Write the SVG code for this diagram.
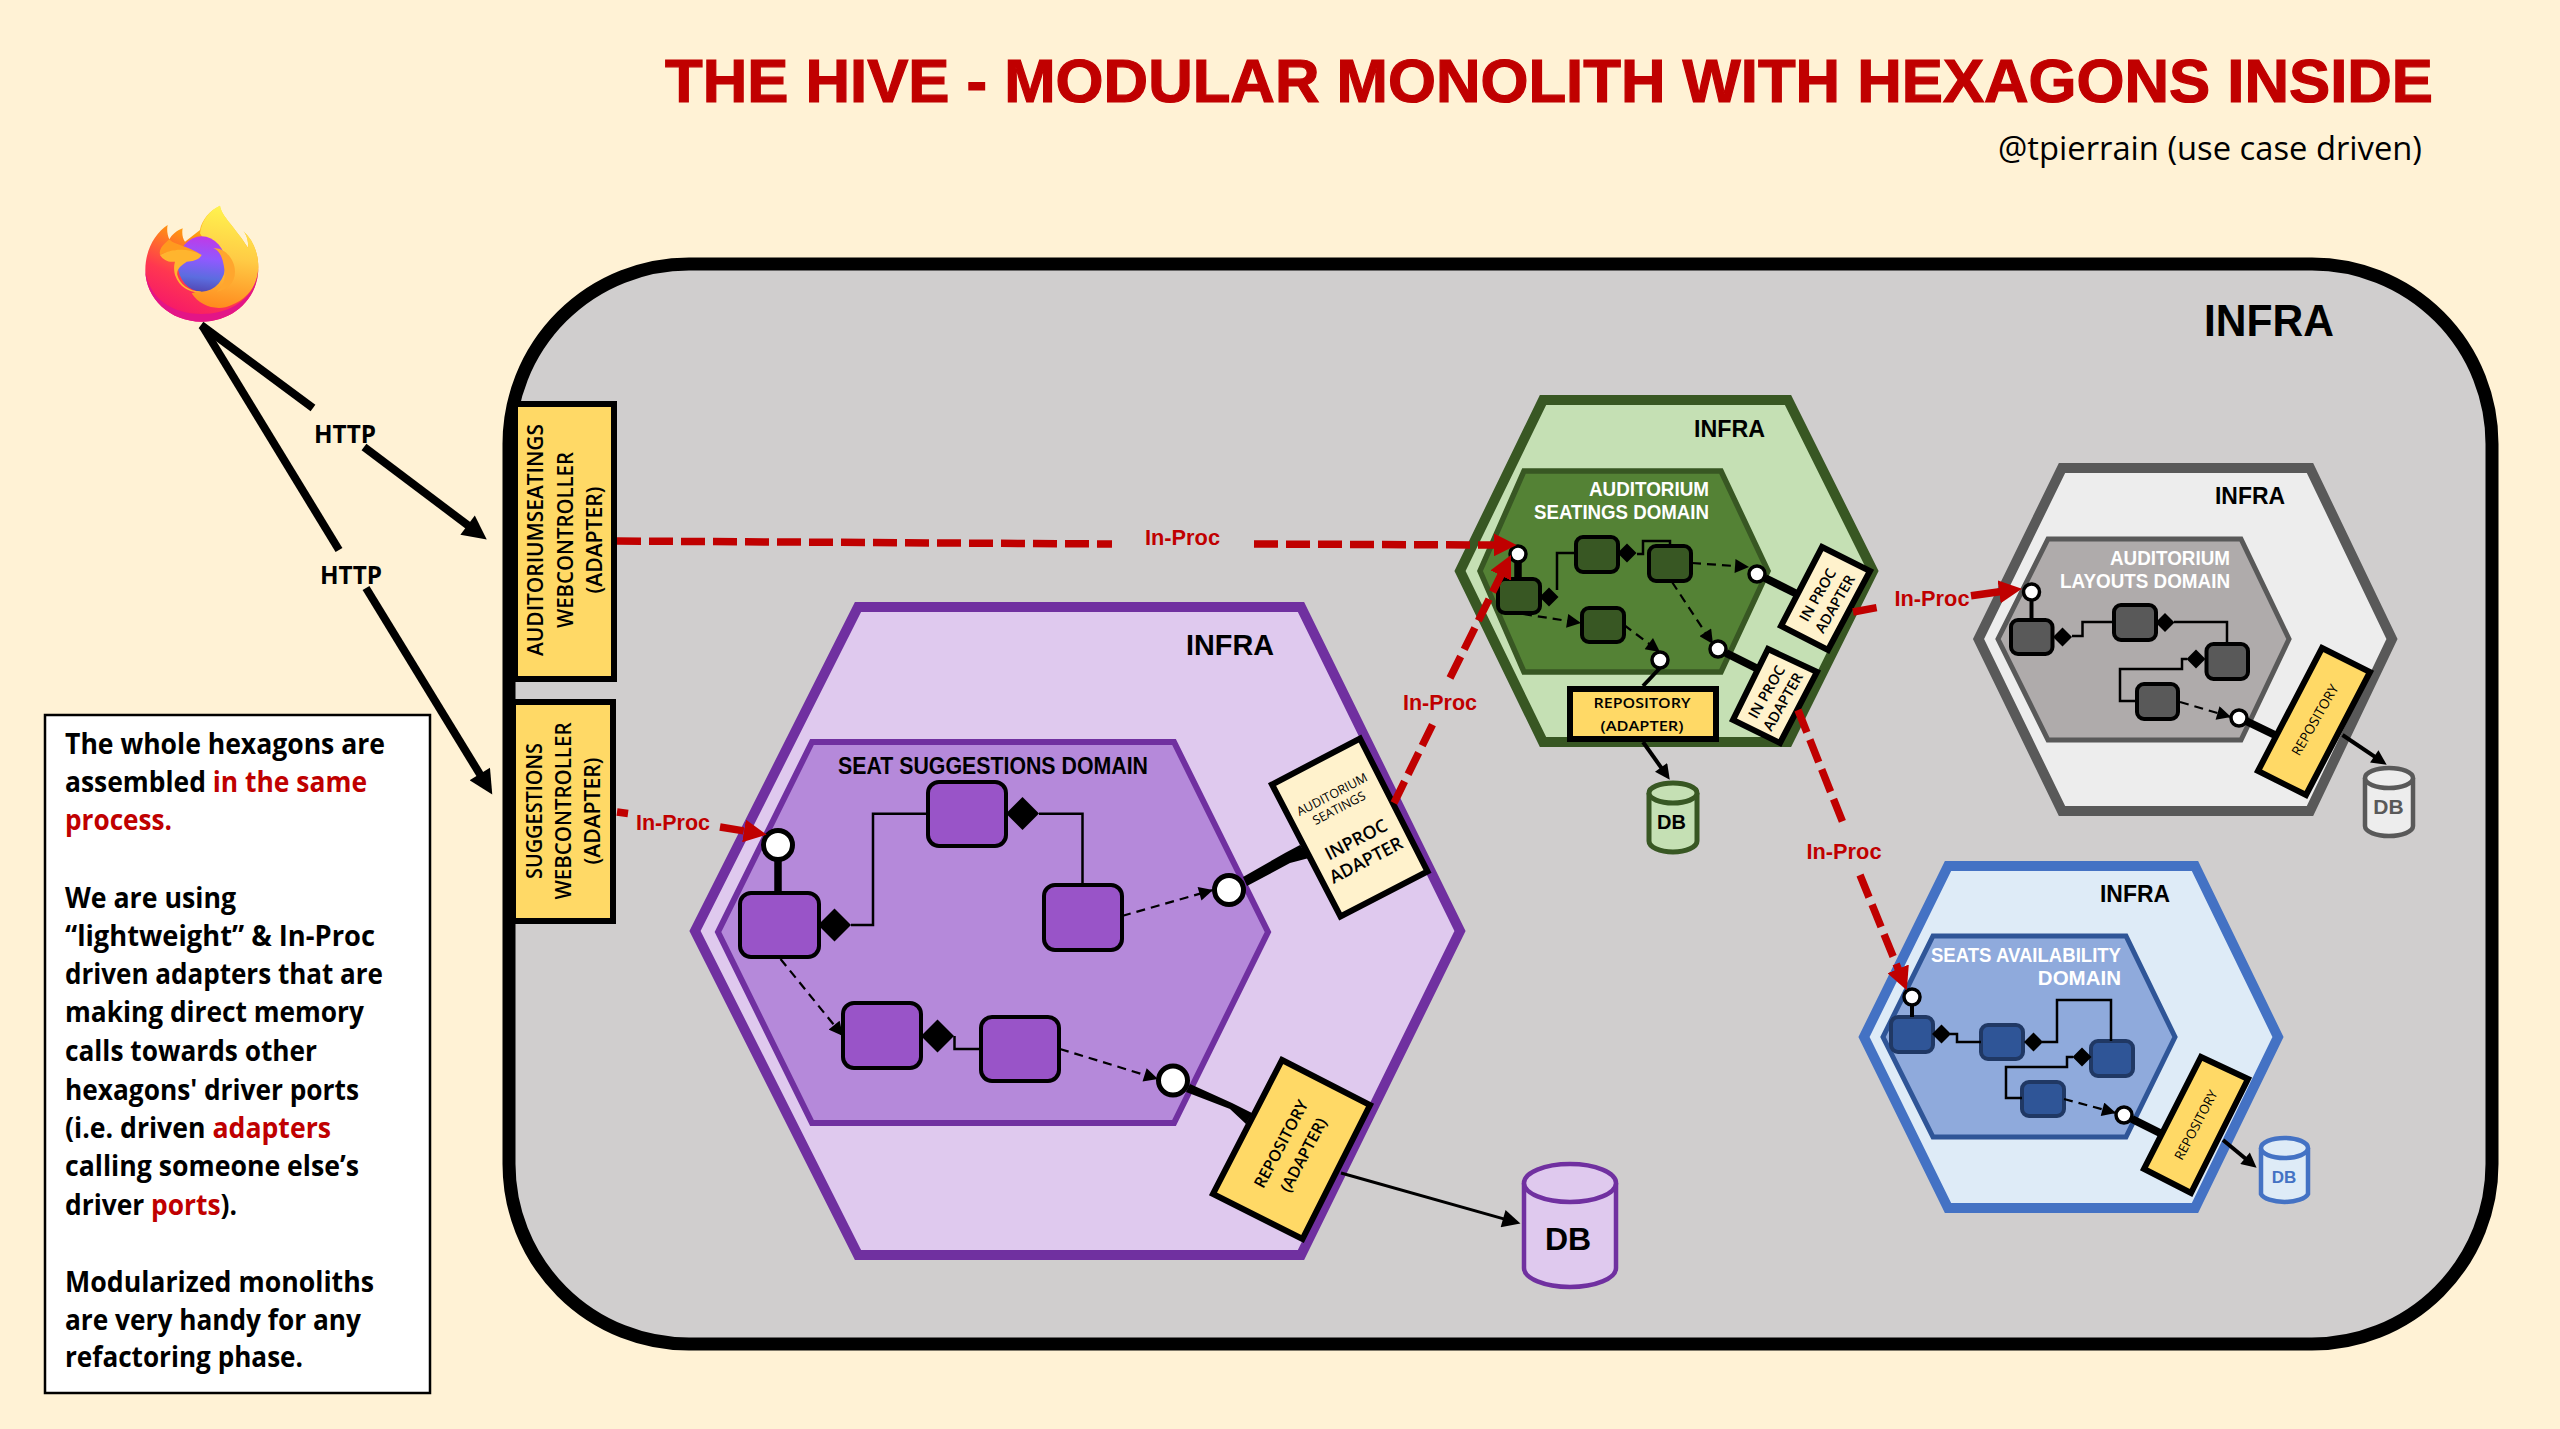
<svg xmlns="http://www.w3.org/2000/svg" width="2560" height="1429" viewBox="0 0 2560 1429">
<style>
text{font-family:"Open Sans","Noto Sans",sans-serif;fill:#000}
.ar{font-family:"Liberation Sans",Arial,sans-serif;font-weight:700}
.sb{font-weight:600}
.m{text-anchor:middle}
.e{text-anchor:end}
.ip{font-family:"Liberation Sans",Arial,sans-serif;font-weight:700;font-size:22px;fill:#C00000;text-anchor:middle}
.note{font-weight:700;font-size:28px}
.r{fill:#C00000}
.ad{stroke:#000;stroke-width:6}
.ye{fill:#FFD966}
.cr{fill:#FFF2CC}
.pt{fill:#fff;stroke:#000}
.box{stroke:#000;stroke-width:4}
.l{fill:none;stroke:#000;stroke-width:2.5}
.d{fill:none;stroke:#000;stroke-width:2.2;stroke-dasharray:9 6}
.red{fill:none;stroke:#C00000;stroke-width:7.5;stroke-dasharray:24 8}
.blk{fill:none;stroke:#000;stroke-width:8}
.dbl{fill:none;stroke:#000}
</style>
<defs>
<marker id="hb" markerUnits="userSpaceOnUse" viewBox="0 0 10 10" refX="1" refY="5" markerWidth="25" markerHeight="24" orient="auto"><path d="M0,0L10,5L0,10Z" fill="#000"/></marker>
<marker id="hr" markerUnits="userSpaceOnUse" viewBox="0 0 10 10" refX="1" refY="5" markerWidth="23" markerHeight="23" orient="auto"><path d="M0,0L10,5L0,10Z" fill="#C00000"/></marker>
<marker id="hs" markerUnits="userSpaceOnUse" viewBox="0 0 10 10" refX="10" refY="5" markerWidth="15" markerHeight="14" orient="auto"><path d="M0,0L10,5L0,10Z" fill="#000"/></marker>
<marker id="hd" markerUnits="userSpaceOnUse" viewBox="0 0 10 10" refX="6" refY="5" markerWidth="16" markerHeight="15" orient="auto"><path d="M0,0L10,5L0,10Z" fill="#000"/></marker>
<marker id="hD" markerUnits="userSpaceOnUse" viewBox="0 0 10 10" refX="6" refY="5" markerWidth="22" markerHeight="18" orient="auto"><path d="M0,0L10,5L0,10Z" fill="#000"/></marker>
<linearGradient id="ffb" x1="0.8" y1="0" x2="0.35" y2="1"><stop offset="0" stop-color="#FFF44F"/><stop offset=".35" stop-color="#FF980E"/><stop offset=".7" stop-color="#FF3750"/><stop offset="1" stop-color="#F5156C"/></linearGradient>
<linearGradient id="ffr" x1="0.5" y1="0" x2="0.4" y2="1"><stop offset="0" stop-color="#FFF44F"/><stop offset=".5" stop-color="#FFCB45"/><stop offset="1" stop-color="#FF8A1E"/></linearGradient>
<linearGradient id="ffg" x1="0.55" y1="0" x2="0.45" y2="1"><stop offset="0" stop-color="#C139E6"/><stop offset=".4" stop-color="#9059FF"/><stop offset=".75" stop-color="#5B6DDF"/><stop offset="1" stop-color="#5248B5"/></linearGradient>
<symbol id="dia" viewBox="-10 -10 20 20" overflow="visible"><path d="M0,-10L10,0L0,10L-10,0Z" fill="#000"/></symbol>
</defs>
<rect width="2560" height="1429" fill="#FFF2D5"/>
<text id="title" class="ar" x="665" y="101.5" font-size="62" textLength="1768" lengthAdjust="spacingAndGlyphs" style="fill:#C00000;stroke:#C00000;stroke-width:1.2">THE HIVE - MODULAR MONOLITH WITH HEXAGONS INSIDE</text>
<text id="handle" x="1998" y="159.5" font-size="33" textLength="424" lengthAdjust="spacingAndGlyphs">@tpierrain (use case driven)</text>

<g id="browser" transform="translate(120,190) scale(.3333)">
<path d="M240,120C245,90 270,60 300,47C305,80 345,110 385,175C385,150 380,135 370,123C400,150 415,190 415,232C415,325 340,395 245,395C150,395 76,325 76,240C76,180 105,130 143,105C140,120 142,135 148,148C155,135 170,122 188,115C185,130 188,145 195,155Z" fill="url(#ffb)"/>
<path d="M240,130C245,90 270,60 300,47C305,80 345,110 385,175C385,150 380,135 370,123C400,150 415,190 415,232C415,280 385,325 335,345C295,365 240,350 215,310C270,300 300,220 240,130Z" fill="url(#ffr)"/>
<path d="M76,240C76,325 150,395 245,395C340,395 415,325 415,235C410,320 335,372 245,372C150,372 85,320 76,240Z" fill="#E31587"/>
<ellipse cx="245" cy="222" rx="72" ry="83" fill="url(#ffg)"/>
<path d="M150,150C165,165 200,165 245,195C200,175 150,180 120,195C115,175 135,160 148,148Z" fill="#FF9A1F"/>
<path d="M120,195C150,178 200,170 245,195C235,212 215,214 200,215C190,222 168,235 172,255C178,280 205,305 245,305C225,312 180,300 165,255C160,235 163,222 165,215C145,218 130,210 120,195Z" fill="#FFB52E"/>
<path d="M280,175C310,170 345,205 345,245C345,280 320,300 290,305C315,290 318,255 310,220C305,195 295,180 280,175Z" fill="#FFA62E"/>
</g>

<g id="infra">
<rect x="509" y="264" width="1983" height="1080" rx="180" ry="180" fill="#D0CECE" stroke="#000" stroke-width="13"/>
<text class="ar" x="2204" y="335.5" font-size="44" textLength="130" lengthAdjust="spacingAndGlyphs">INFRA</text>
</g>

<g id="web-auditorium">
<rect class="ad ye" x="515" y="404" width="99" height="275"/>
<text class="m sb" font-size="22" transform="translate(543,540) rotate(-90)" textLength="232" lengthAdjust="spacingAndGlyphs">AUDITORIUMSEATINGS</text>
<text class="m sb" font-size="22" transform="translate(573,540) rotate(-90)" textLength="176" lengthAdjust="spacingAndGlyphs">WEBCONTROLLER</text>
<text class="m sb" font-size="22" transform="translate(602,540) rotate(-90)" textLength="107" lengthAdjust="spacingAndGlyphs">(ADAPTER)</text>
</g>
<g id="web-suggestions">
<rect class="ad ye" x="513" y="702" width="100" height="219"/>
<text class="m sb" font-size="22" transform="translate(542,811) rotate(-90)" textLength="136" lengthAdjust="spacingAndGlyphs">SUGGESTIONS</text>
<text class="m sb" font-size="22" transform="translate(571,811) rotate(-90)" textLength="177" lengthAdjust="spacingAndGlyphs">WEBCONTROLLER</text>
<text class="m sb" font-size="22" transform="translate(600,811) rotate(-90)" textLength="107" lengthAdjust="spacingAndGlyphs">(ADAPTER)</text>
</g>

<g id="hive-suggestions">
<polygon points="858,607 1301,607 1460,931 1301,1255 858,1255 695,931" fill="#DFC9EE" stroke="#7030A0" stroke-width="10"/>
<text class="ar" x="1186" y="655" font-size="29" textLength="88" lengthAdjust="spacingAndGlyphs">INFRA</text>
<polygon points="812,742 1174,742 1268,932 1174,1123 812,1123 718,932" fill="#B589DA" stroke="#7030A0" stroke-width="6"/>
<text class="ar" x="838" y="774" font-size="23" textLength="310" lengthAdjust="spacingAndGlyphs">SEAT SUGGESTIONS DOMAIN</text>
<g fill="#9954C8" class="box">
<rect x="740" y="893" width="79" height="64" rx="11"/>
<rect x="928" y="782" width="78" height="64" rx="11"/>
<rect x="1044" y="885" width="78" height="65" rx="11"/>
<rect x="843" y="1003" width="78" height="65" rx="11"/>
<rect x="981" y="1017" width="78" height="64" rx="11"/>
</g>
<use href="#dia" x="818" y="908.5" width="33" height="33"/>
<use href="#dia" x="1006" y="797" width="33" height="33"/>
<use href="#dia" x="921" y="1019.5" width="33" height="33"/>
<g class="pt" stroke-width="5">
<circle cx="778" cy="845" r="14.5"/>
<circle cx="1229" cy="890" r="14.5"/>
<circle cx="1173" cy="1080.5" r="14.5"/>
</g>
<polygon class="ad cr" points="1360,738.5 1427.5,871.5 1340.5,916.5 1272,784.5"/>
<text class="m" transform="translate(1332,794.5) rotate(-27.5)" dy=".35em" font-size="12.5">AUDITORIUM</text>
<text class="m" transform="translate(1339,808) rotate(-27.5)" dy=".35em" font-size="12.5">SEATINGS</text>
<text class="m sb" transform="translate(1356,839.5) rotate(-27.5)" dy=".35em" font-size="18">INPROC</text>
<text class="m sb" transform="translate(1366,860) rotate(-27.5)" dy=".35em" font-size="18">ADAPTER</text>
<polygon class="ad ye" points="1282,1060 1370,1105 1302.5,1239 1213,1194"/>
<text class="m sb" transform="translate(1281,1144) rotate(-62)" dy=".35em" font-size="16">REPOSITORY</text>
<text class="m sb" transform="translate(1303.5,1155) rotate(-62)" dy=".35em" font-size="16">(ADAPTER)</text>
</g>
<g id="db-suggestions">
<path d="M1524,1183V1268A46,19 0 0 0 1616,1268V1183" fill="#DFC9EE" stroke="#7030A0" stroke-width="4.5"/>
<ellipse cx="1570" cy="1183" rx="46" ry="19" fill="#DFC9EE" stroke="#7030A0" stroke-width="4.5"/>
<text class="ar m" x="1568" y="1250" font-size="32">DB</text>
</g>

<g id="hive-seatings">
<polygon points="1543,400 1788,400 1873,571 1788,742 1543,742 1460,571" fill="#C5E0B4" stroke="#385723" stroke-width="10"/>
<text class="ar" x="1694" y="437" font-size="23.5" textLength="71" lengthAdjust="spacingAndGlyphs">INFRA</text>
<polygon points="1524,471 1721,471 1768,571 1721,672 1524,672 1480,571" fill="#548235" stroke="#385723" stroke-width="5.5"/>
<text class="ar" x="1589" y="496" font-size="21" style="fill:#fff" textLength="120" lengthAdjust="spacingAndGlyphs">AUDITORIUM</text>
<text class="ar" x="1534" y="519" font-size="21" style="fill:#fff" textLength="175" lengthAdjust="spacingAndGlyphs">SEATINGS DOMAIN</text>
<g fill="#385723" class="box">
<rect x="1498" y="579" width="42" height="34" rx="7"/>
<rect x="1576" y="537" width="42" height="35" rx="7"/>
<rect x="1649" y="546" width="42" height="35" rx="7"/>
<rect x="1582" y="608" width="42" height="34" rx="7"/>
</g>
<use href="#dia" x="1539.5" y="587.5" width="19" height="19"/>
<use href="#dia" x="1617.5" y="543.5" width="19" height="19"/>
<g class="pt" stroke-width="3.5">
<circle cx="1518" cy="554" r="8"/>
<circle cx="1757" cy="574" r="8"/>
<circle cx="1718" cy="649" r="8"/>
<circle cx="1660" cy="660" r="8"/>
</g>
<polygon class="ad cr" points="1822,547 1870,571 1828,650 1781,626"/>
<text class="m sb" transform="translate(1817.7,595) rotate(-60)" dy=".35em" font-size="14.5">IN PROC</text>
<text class="m sb" transform="translate(1835,604) rotate(-60)" dy=".35em" font-size="14.5">ADAPTER</text>
<polygon class="ad cr" points="1768,649 1817,672 1780,743 1733,720"/>
<text class="m sb" transform="translate(1766.7,692) rotate(-60)" dy=".35em" font-size="14.5">IN PROC</text>
<text class="m sb" transform="translate(1783,701.7) rotate(-60)" dy=".35em" font-size="14.5">ADAPTER</text>
<rect class="ad ye" x="1570" y="689" width="146" height="50"/>
<text class="m sb" x="1642" y="708" font-size="15" textLength="97" lengthAdjust="spacingAndGlyphs">REPOSITORY</text>
<text class="m sb" x="1642" y="731" font-size="15" textLength="83" lengthAdjust="spacingAndGlyphs">(ADAPTER)</text>
</g>
<g id="db-seatings">
<path d="M1649,793V841A24,11 0 0 0 1697,841V793" fill="#C5E0B4" stroke="#385723" stroke-width="5"/>
<ellipse cx="1673" cy="793" rx="24" ry="10" fill="#C5E0B4" stroke="#385723" stroke-width="5"/>
<text class="ar m" x="1671.5" y="829" font-size="20">DB</text>
</g>

<g id="hive-layouts">
<polygon points="2062,468 2310,468 2392,639 2310,811 2062,811 1978.5,639" fill="#EDEDED" stroke="#595959" stroke-width="10"/>
<text class="ar" x="2215" y="504" font-size="23" textLength="70" lengthAdjust="spacingAndGlyphs">INFRA</text>
<polygon points="2048,539 2241,539 2289,639 2241,740 2048,740 1998,639" fill="#AFABAB" stroke="#595959" stroke-width="5"/>
<text class="ar" x="2110" y="565" font-size="20.5" style="fill:#fff" textLength="120" lengthAdjust="spacingAndGlyphs">AUDITORIUM</text>
<text class="ar" x="2060" y="588" font-size="20.5" style="fill:#fff" textLength="170" lengthAdjust="spacingAndGlyphs">LAYOUTS DOMAIN</text>
<g fill="#595959" class="box">
<rect x="2011" y="620" width="41.5" height="34" rx="7"/>
<rect x="2114" y="605" width="42" height="35" rx="7"/>
<rect x="2206.5" y="644" width="41.5" height="35" rx="7"/>
<rect x="2137" y="684" width="41" height="35" rx="7"/>
</g>
<use href="#dia" x="2053" y="627.5" width="19" height="19"/>
<use href="#dia" x="2155.5" y="613" width="19" height="19"/>
<use href="#dia" x="2186.5" y="649.5" width="19" height="19"/>
<g class="pt" stroke-width="3.5">
<circle cx="2031.5" cy="592" r="8"/>
<circle cx="2239" cy="718" r="8"/>
</g>
<polygon class="ad ye" points="2322,648 2370,672 2306,795 2258,771"/>
<text class="m" transform="translate(2315,720) rotate(-60)" dy=".35em" font-size="13.5">REPOSITORY</text>
</g>
<g id="db-layouts">
<path d="M2365,778V826A24,10 0 0 0 2413,826V778" fill="#EDEDED" stroke="#595959" stroke-width="4.5"/>
<ellipse cx="2389" cy="778" rx="24" ry="10" fill="#EDEDED" stroke="#595959" stroke-width="4.5"/>
<text class="ar m" x="2388.5" y="814" font-size="21" style="fill:#595959">DB</text>
</g>

<g id="hive-availability">
<polygon points="1948,866 2195,866 2278,1037 2195,1208 1948,1208 1864,1037" fill="#DEEBF7" stroke="#4472C4" stroke-width="10"/>
<text class="ar" x="2100" y="902" font-size="23" textLength="70" lengthAdjust="spacingAndGlyphs">INFRA</text>
<polygon points="1933,936 2126,936 2175,1037 2126,1137 1933,1137 1883,1037" fill="#8FAADC" stroke="#2F5597" stroke-width="5"/>
<text class="ar" x="1931" y="962" font-size="20.5" style="fill:#fff" textLength="190" lengthAdjust="spacingAndGlyphs">SEATS AVAILABILITY</text>
<text class="ar e" x="2121" y="985" font-size="20.5" style="fill:#fff">DOMAIN</text>
<g fill="#2F5597" stroke="#203864" stroke-width="4">
<rect x="1891" y="1017" width="42" height="35" rx="7"/>
<rect x="1981" y="1025" width="42" height="34" rx="7"/>
<rect x="2091" y="1041" width="42" height="35" rx="7"/>
<rect x="2022" y="1082" width="42" height="34" rx="7"/>
</g>
<use href="#dia" x="1932" y="1024.5" width="19" height="19"/>
<use href="#dia" x="2024" y="1032.5" width="19" height="19"/>
<use href="#dia" x="2072.5" y="1047.5" width="19" height="19"/>
<g class="pt" stroke-width="3.5">
<circle cx="1912" cy="997" r="8"/>
<circle cx="2124" cy="1115" r="8"/>
</g>
<polygon class="ad ye" points="2201,1057 2248,1079 2191,1193 2144,1169"/>
<text class="m" transform="translate(2196,1125) rotate(-62)" dy=".35em" font-size="13">REPOSITORY</text>
</g>
<g id="db-availability">
<path d="M2261,1148V1194A24,10 0 0 0 2308,1194V1148" fill="#DEEBF7" stroke="#4472C4" stroke-width="4.5"/>
<ellipse cx="2284.5" cy="1148" rx="23.5" ry="10" fill="#DEEBF7" stroke="#4472C4" stroke-width="4.5"/>
<text class="ar m" x="2284" y="1183" font-size="17" style="fill:#4472C4">DB</text>
</g>

<g id="note">
<rect x="45" y="715" width="385" height="678" fill="#fff" stroke="#000" stroke-width="2.5"/>
<text class="note" x="65" y="753.5" textLength="320" lengthAdjust="spacingAndGlyphs">The whole hexagons are</text>
<text class="note" x="65" y="791.5" textLength="302" lengthAdjust="spacingAndGlyphs">assembled <tspan class="r">in the same</tspan></text>
<text class="note" x="65" y="830" textLength="107" lengthAdjust="spacingAndGlyphs" style="fill:#C00000">process.</text>
<text class="note" x="65" y="907.5" textLength="171" lengthAdjust="spacingAndGlyphs">We are using</text>
<text class="note" x="65" y="945.5" textLength="310" lengthAdjust="spacingAndGlyphs">“lightweight” &amp; In-Proc</text>
<text class="note" x="65" y="983.5" textLength="318" lengthAdjust="spacingAndGlyphs">driven adapters that are</text>
<text class="note" x="65" y="1022" textLength="299" lengthAdjust="spacingAndGlyphs">making direct memory</text>
<text class="note" x="65" y="1060.5" textLength="252" lengthAdjust="spacingAndGlyphs">calls towards other</text>
<text class="note" x="65" y="1099.5" textLength="294" lengthAdjust="spacingAndGlyphs">hexagons' driver ports</text>
<text class="note" x="65" y="1137.5" textLength="266" lengthAdjust="spacingAndGlyphs">(i.e. driven <tspan class="r">adapters</tspan></text>
<text class="note" x="65" y="1176" textLength="294" lengthAdjust="spacingAndGlyphs">calling someone else’s</text>
<text class="note" x="65" y="1214.5" textLength="172" lengthAdjust="spacingAndGlyphs">driver <tspan class="r">ports</tspan>).</text>
<text class="note" x="65" y="1291.5" textLength="309" lengthAdjust="spacingAndGlyphs">Modularized monoliths</text>
<text class="note" x="65" y="1329.5" textLength="296" lengthAdjust="spacingAndGlyphs">are very handy for any</text>
<text class="note" x="65" y="1367" textLength="238" lengthAdjust="spacingAndGlyphs">refactoring phase.</text>
</g>

<g id="connectors">
<path class="blk" d="M201,325L313,408"/>
<path class="blk" d="M364,447L469.5,526.5" marker-end="url(#hb)"/>
<path class="blk" d="M203,327L339,550"/>
<path class="blk" d="M366,588L481,776" marker-end="url(#hb)"/>
<text class="m" x="345" y="442.5" font-size="25" textLength="62" lengthAdjust="spacingAndGlyphs" style="font-weight:700">HTTP</text>
<text class="m" x="351" y="584" font-size="25" textLength="62" lengthAdjust="spacingAndGlyphs" style="font-weight:700">HTTP</text>
<path class="red" d="M617,541L1112,544"/>
<path class="red" d="M1254,544L1496,545" marker-end="url(#hr)"/>
<path class="red" d="M617,812L628,813.5"/>
<path class="red" d="M720,827L746.3,831.3" marker-end="url(#hr)"/>
<path class="red" d="M1394,803L1432.5,724.6"/>
<path class="red" d="M1450,678L1501.8,573.5" marker-end="url(#hr)"/>
<path class="red" d="M1853,612L1880,607"/>
<path class="red" style="stroke-dasharray:none" d="M1971,595.7L2001.4,591.5" marker-end="url(#hr)"/>
<path class="red" d="M1798,710L1845,828"/>
<path class="red" d="M1860,875L1899,971" marker-end="url(#hr)"/>
<text class="ip" x="1182.5" y="545" textLength="75" lengthAdjust="spacingAndGlyphs">In-Proc</text>
<text class="ip" x="673" y="830" textLength="74" lengthAdjust="spacingAndGlyphs">In-Proc</text>
<text class="ip" x="1440" y="709.5" textLength="74" lengthAdjust="spacingAndGlyphs">In-Proc</text>
<text class="ip" x="1932" y="606" textLength="75" lengthAdjust="spacingAndGlyphs">In-Proc</text>
<text class="ip" x="1844" y="859" textLength="75" lengthAdjust="spacingAndGlyphs">In-Proc</text>
<path class="dbl" stroke-width="7.5" d="M778,859V893"/>
<path class="l" d="M851,925H873V813.7H928"/>
<path class="l" d="M1039,813.7H1082.5V885"/>
<path class="l" d="M954.5,1036V1049H981"/>
<path class="d" d="M1122,916L1213,890" marker-end="url(#hs)"/>
<path class="d" d="M780.5,959L843,1036" marker-end="url(#hs)"/>
<path class="d" d="M1060,1049L1158,1079" marker-end="url(#hs)"/>
<polygon points="1243,877 1247,886 1290,863 1309,858 1300,845 1285,853" fill="#000"/>
<polygon points="1190,1084 1186,1092 1230,1109 1246,1124 1252,1113 1232,1103" fill="#000"/>
<path class="dbl" stroke-width="3" d="M1341,1173L1513.5,1221.6" marker-end="url(#hD)"/>
<path class="dbl" stroke-width="7.5" d="M1518,563V579"/>
<path class="l" d="M1557,590V553H1576"/>
<path class="l" d="M1637,554H1643V541H1670V546"/>
<path class="d" d="M1692,563L1749,567" marker-end="url(#hs)"/>
<path class="d" d="M1672,582L1713,644" marker-end="url(#hs)"/>
<path class="d" d="M1523,614L1581,623" marker-end="url(#hs)"/>
<path class="d" d="M1624,625L1660,652" marker-end="url(#hs)"/>
<path class="dbl" stroke-width="8" d="M1765,578L1797,594"/>
<path class="dbl" stroke-width="8" d="M1726,653L1758,669"/>
<path class="dbl" stroke-width="4" d="M1660,668L1643,686"/>
<path class="dbl" stroke-width="4" d="M1643,742L1666.3,774.8" marker-end="url(#hd)"/>
<path class="dbl" stroke-width="4" d="M2031.5,600V620"/>
<path class="l" d="M2072,636H2082.5V622H2114"/>
<path class="l" d="M2174,622H2227V644"/>
<path class="l" d="M2187,659H2182V669H2120V701H2137"/>
<path class="d" d="M2180,702L2231,717" marker-end="url(#hs)"/>
<path class="dbl" stroke-width="8" d="M2246,721L2277,736"/>
<path class="dbl" stroke-width="4" d="M2342.5,735L2381.7,761.4" marker-end="url(#hd)"/>
<path class="dbl" stroke-width="4" d="M1912,1005V1017"/>
<path class="l" d="M1950,1034H1957V1042H1981"/>
<path class="l" d="M2042,1042H2057V1000H2111V1041"/>
<path class="l" d="M2073,1057H2067V1067H2006V1098H2022"/>
<path class="d" d="M2064,1099L2116,1113" marker-end="url(#hs)"/>
<path class="dbl" stroke-width="8" d="M2132,1119L2160,1133"/>
<path class="dbl" stroke-width="4" d="M2223,1140L2252,1164" marker-end="url(#hd)"/>
</g>
</svg>
